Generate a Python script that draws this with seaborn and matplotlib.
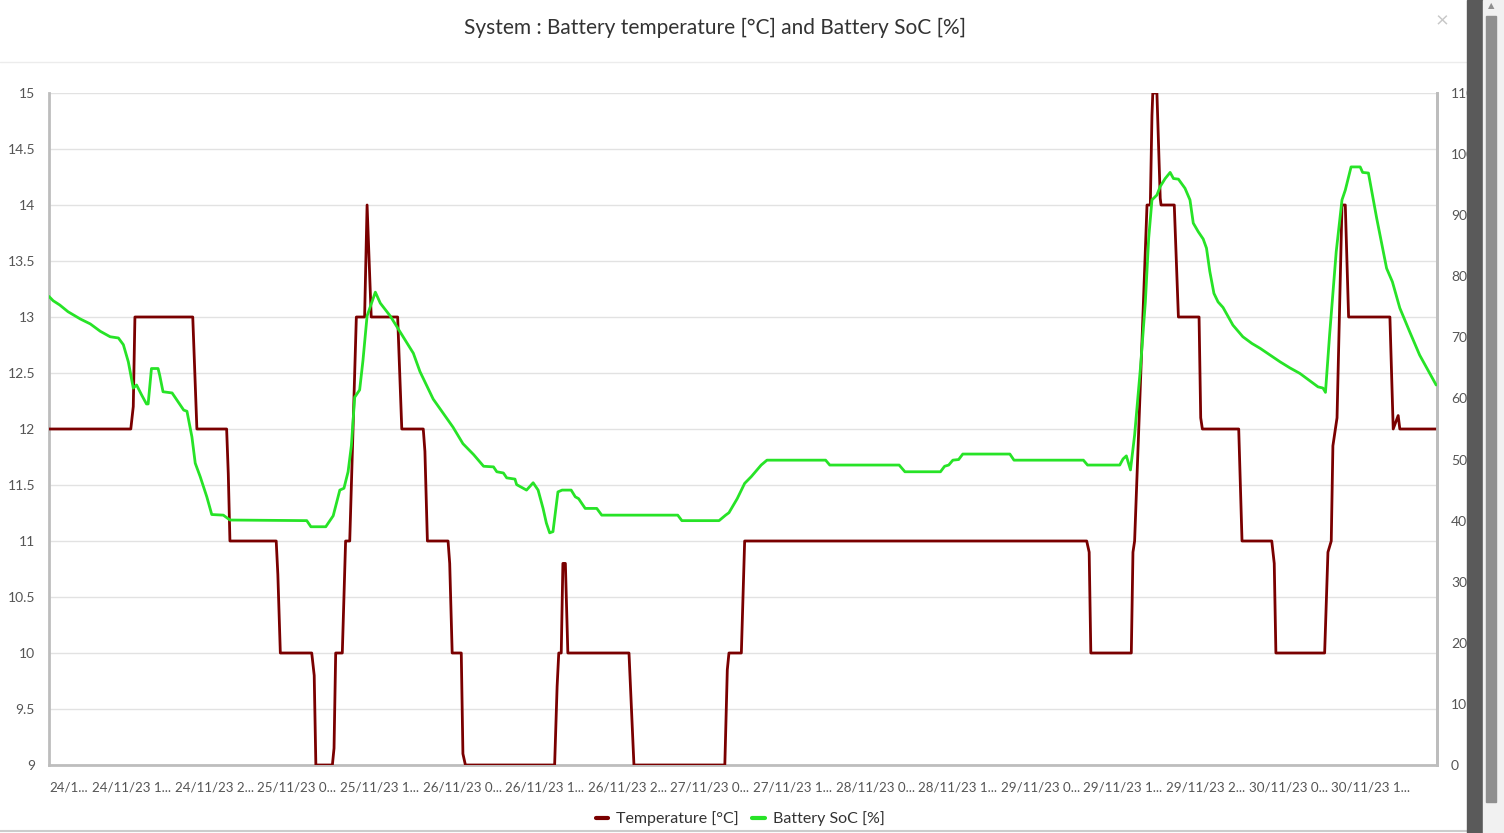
import matplotlib.pyplot as plt
import seaborn as sns
import pandas as pd
from matplotlib.lines import Line2D
from matplotlib.patches import Rectangle

# hours since 24/11/23 00:00
temp_hours = [0, 9.9, 10.2, 10.4, 17.4, 17.7, 17.9, 21.5, 21.7, 21.9, 27.5, 27.7, 28.0,
              31.8, 32.1, 32.3, 34.3, 34.5, 34.7, 35.5, 35.9, 36.4, 37.2, 38.2, 38.5,
              39.0, 42.2, 42.7, 45.3, 45.5, 45.8, 48.3, 48.5, 48.8, 49.9, 50.1, 50.4,
              61.2, 61.5, 61.7, 62.0, 62.2, 62.5, 62.8, 70.2, 70.8, 81.8, 82.1, 82.3,
              83.8, 84.2, 125.6, 125.9, 126.1, 131.0, 131.2, 131.4, 132.9, 133.3, 133.5,
              133.6, 134.1, 134.5, 134.6, 136.2, 136.7, 139.2, 139.4, 139.6, 144.0, 144.4,
              148.0, 148.3, 148.5, 154.4, 154.8, 155.2, 155.4, 155.9, 156.5, 156.9, 157.3,
              162.3, 162.7, 163.3, 163.5, 168.0]
temp_values = [12, 12, 12.2, 13, 13, 12.4, 12, 12, 11.6, 11, 11, 10.7, 10,
               10, 9.8, 9, 9, 9.15, 10, 10, 11, 11, 13, 13, 14,
               13, 13, 12, 12, 11.8, 11, 11, 10.8, 10, 10, 9.1, 9,
               9, 9.7, 10, 10, 10.8, 10.8, 10, 10, 9, 9, 9.85, 10,
               10, 11, 11, 10.9, 10, 10, 10.9, 11, 14, 14, 14.8,
               15, 15, 14.06, 14, 14, 13, 13, 12.1, 12, 12, 11,
               11, 10.8, 10, 10, 10.9, 11, 11.85, 12.1, 14, 14, 13,
               13, 12, 12.12, 12, 12]

soc_hours = [0, 0.5, 1.3, 2.3, 3.8, 5.0, 6.2, 7.4, 8.4, 9.0, 9.6, 10.2, 10.6, 11.2,
             11.8, 12.0, 12.4, 13.2, 13.4, 13.8, 14.9, 15.9, 16.3, 16.7, 17.3, 17.7,
             18.3, 19.1, 19.7, 21.1, 21.9, 31.2, 31.7, 33.5, 34.0, 34.4, 35.2, 35.7,
             36.2, 36.6, 37.0, 37.6, 38.0, 38.5, 39.5, 40.1, 41.3, 44.1, 44.9, 46.5,
             48.9, 50.1, 51.4, 52.6, 53.8, 54.2, 55.0, 55.4, 56.4, 56.6, 57.8, 58.6,
             59.2, 59.8, 60.2, 60.6, 61.0, 61.6, 62.1, 63.2, 63.7, 64.1, 64.9, 66.3,
             66.9, 76.1, 76.6, 81.1, 81.9, 82.3, 83.3, 84.2, 85.0, 85.5, 86.2, 86.9,
             94.0, 94.5, 102.9, 103.6, 107.9, 108.4, 108.9, 109.4, 110.1, 110.6, 116.3,
             116.8, 125.2, 125.7, 129.6, 130.0, 130.4, 130.9, 131.4, 132.1, 132.7,
             133.1, 133.5, 134.1, 134.5, 135.1, 135.7, 136.1, 136.7, 137.5, 138.1,
             138.5, 139.1, 139.7, 140.1, 140.5, 141.0, 141.5, 142.1, 143.3, 144.5,
             145.6, 146.6, 147.8, 149.0, 150.2, 151.4, 152.6, 153.6, 154.2, 154.5,
             155.0, 155.8, 156.5, 156.9, 157.6, 158.7, 159.0, 159.7, 160.7, 161.9,
             162.6, 163.5, 164.7, 165.9, 167.9]
soc_values = [76.7, 76, 75.3, 74.2, 73, 72.2, 71, 70.1, 69.9, 68.8, 66, 61.7, 62.2, 60.6,
              59.1, 59.1, 64.9, 64.9, 63.8, 61.1, 60.9, 58.9, 58.1, 57.9, 53.7, 49.4,
              47.2, 43.9, 41, 40.9, 40.1, 40, 39, 39, 40, 40.8, 45, 45.3,
              48, 52.3, 60.2, 61.4, 66.2, 73.5, 77.4, 75.6, 73.5, 67.4, 64.4, 59.9,
              55.3, 52.6, 50.8, 48.9, 48.8, 48, 47.8, 47, 46.8, 45.9, 45, 46.2,
              45, 42, 39.6, 38, 38.2, 44.7, 45, 45, 43.9, 43.6, 42, 42,
              40.9, 40.9, 40, 40, 40.9, 41.3, 43.6, 46.1, 47.2, 48, 49.1, 49.9,
              49.9, 49.1, 49.1, 48, 48, 48.9, 49.1, 49.9, 50, 50.9, 50.9,
              49.9, 49.9, 49.1, 49.1, 50.1, 50.6, 48.3, 54, 64.9, 75.8,
              86.2, 92.5, 93.3, 94.7, 96, 97, 96, 95.9, 94.4, 92.5,
              88.7, 87.3, 86.1, 84.6, 80.8, 77.2, 75.8, 74.9, 72, 70.1,
              69, 68.2, 67.1, 66, 65, 64.1, 62.9, 61.9, 61.7, 61,
              70.4, 84, 92.5, 94.1, 97.9, 97.9, 97, 96.9, 89.5, 81.3,
              79.1, 74.8, 70.9, 67.1, 62.2]

tick_hours = [0, 10, 20, 30, 40, 50, 60, 70, 80, 90, 100, 110, 120, 130, 140, 150, 160]
tick_labels = ["24/1...", "24/11/23 1...", "24/11/23 2...", "25/11/23 0...", "25/11/23 1...",
               "26/11/23 0...", "26/11/23 1...", "26/11/23 2...", "27/11/23 0...",
               "27/11/23 1...", "28/11/23 0...", "28/11/23 1...", "29/11/23 0...",
               "29/11/23 1...", "29/11/23 2...", "30/11/23 0...", "30/11/23 1..."]
temp_ticks = [9, 9.5, 10, 10.5, 11, 11.5, 12, 12.5, 13, 13.5, 14, 14.5, 15]
soc_ticks = [0, 10, 20, 30, 40, 50, 60, 70, 80, 90, 100, 110]

temp_df = pd.DataFrame({"hour": temp_hours, "value": temp_values})
soc_df = pd.DataFrame({"hour": soc_hours, "value": soc_values})

sns.set_style("white")
plt.rcParams["font.family"] = ["Lato", "DejaVu Sans"]

TEMP_COLOR = "#7a0000"
SOC_COLOR = "#27e327"
GRID = "#e2e2e2"
AXIS = "#bdbdbd"
LABEL = "#555555"

fig = plt.figure(figsize=(15.04, 8.33), dpi=100)
W, H = 1504, 833
ax = fig.add_axes([49 / W, 68 / H, (1437 - 49) / W, (765 - 93) / H])

sns.lineplot(data=temp_df, x="hour", y="value", ax=ax, color=TEMP_COLOR, linewidth=2.0,
             estimator=None, sort=False, zorder=3)
ax.set_xlim(0, 168)
ax.set_ylim(9, 15)
ax.set_yticks(temp_ticks)
ax.set_yticklabels([f"{t:g}" for t in temp_ticks])
ax.set_xticks(tick_hours)
ax.set_xticklabels(tick_labels)
for i, lab in enumerate(ax.get_xticklabels()):
    if i == 0:
        lab.set_ha("left")
ax.set_xlabel("")
ax.set_ylabel("")
ax.grid(axis="y", color=GRID, linewidth=1.0)
ax.grid(axis="x", visible=False)
ax.tick_params(axis="x", length=6, width=1, color=AXIS, labelsize=9.6, labelcolor=LABEL, pad=6)
ax.tick_params(axis="y", length=0, labelsize=10, labelcolor=LABEL, pad=10)
ax.spines["top"].set_visible(False)
for side in ["left", "bottom", "right"]:
    ax.spines[side].set_color(AXIS)
    ax.spines[side].set_linewidth(2)

ax2 = ax.twinx()
sns.lineplot(data=soc_df, x="hour", y="value", ax=ax2, color=SOC_COLOR, linewidth=2.0,
             estimator=None, sort=False, zorder=3)
ax2.set_ylim(0, 110)
ax2.set_yticks(soc_ticks)
ax2.set_yticklabels([str(t) for t in soc_ticks])
ax2.set_ylabel("")
ax2.grid(False)
ax2.tick_params(axis="y", length=0, labelsize=10, labelcolor=LABEL, pad=10)
ax2.spines["top"].set_visible(False)
ax2.spines["left"].set_visible(False)
ax2.spines["bottom"].set_visible(False)
ax2.spines["right"].set_color(AXIS)
ax2.spines["right"].set_linewidth(2)

# title bar and close mark
fig.text(715 / W, 1 - 28 / H, "System : Battery temperature [°C] and Battery SoC [%]",
         ha="center", va="center", fontsize=15, color="#333333")
fig.text(1442 / W, 1 - 21 / H, "×", ha="center", va="center", fontsize=16, color="#c8c8c8")
fig.add_artist(Line2D([0, 1467 / W], [1 - 62 / H, 1 - 62 / H], color="#ececec", linewidth=1))
fig.add_artist(Line2D([0, 1467 / W], [1 - 831 / H, 1 - 831 / H], color="#cccccc", linewidth=1.5))

# legend
handles = [Line2D([], [], color=TEMP_COLOR, linewidth=3),
           Line2D([], [], color=SOC_COLOR, linewidth=3)]
fig.legend(handles, ["Temperature [°C]", "Battery SoC [%]"], loc="center",
           bbox_to_anchor=(740 / W, 1 - 819 / H), ncol=2, frameon=False, fontsize=11.5,
           handlelength=0.8, handletextpad=0.5, columnspacing=0.8, labelcolor="#333333")

# scrollbar on the right edge
fig.add_artist(Rectangle((1467 / W, 0), 16 / W, 1, transform=fig.transFigure,
                         color="#5a5a5a", zorder=10))
fig.add_artist(Rectangle((1483 / W, 0), 21 / W, 1, transform=fig.transFigure,
                         color="#f1f1f1", zorder=10))
fig.add_artist(Rectangle((1486 / W, 1 - 802 / H), 10 / W, (802 - 16) / H,
                         transform=fig.transFigure, color="#8f8f8f", zorder=11))
fig.text(1491 / W, 1 - 6 / H, "▲", ha="center", va="center", fontsize=6, color="#8f8f8f",
         family="DejaVu Sans", zorder=12)

fig.savefig("out.png", dpi=100)
